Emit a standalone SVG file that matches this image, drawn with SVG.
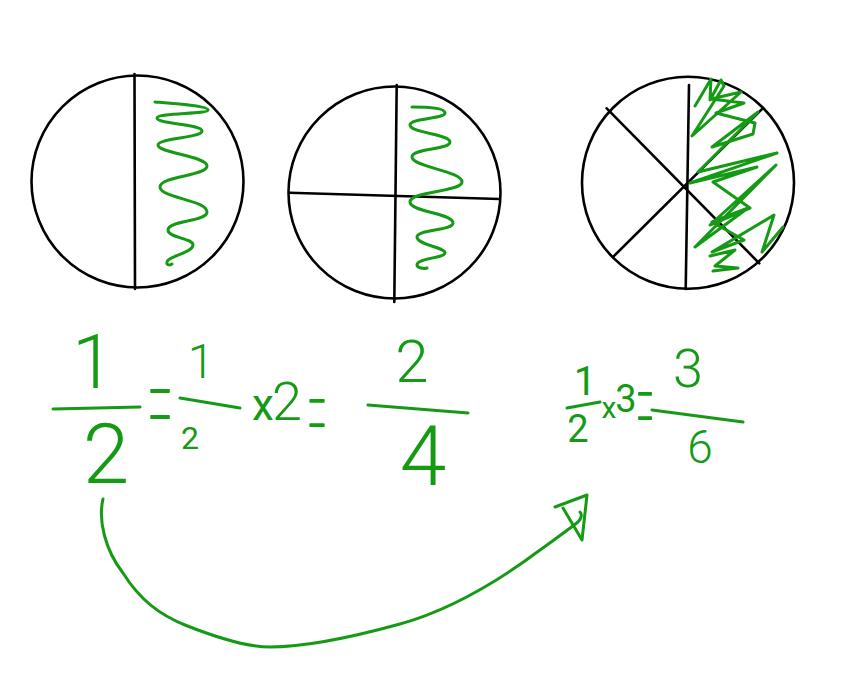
<svg xmlns="http://www.w3.org/2000/svg" width="854" height="685" viewBox="0 0 854 685">
<style>
.blk{fill:none;stroke:#000;stroke-width:2.6;stroke-linecap:round;stroke-linejoin:round}
.grn{fill:none;stroke:#159a15;stroke-width:3;stroke-linecap:round;stroke-linejoin:round}
.t{font-family:Roboto,"Liberation Sans",sans-serif;fill:#159a15;text-anchor:middle}
.lt{font-weight:300}
.eq{font-family:Lato,Roboto,sans-serif;font-weight:100;stroke:#159a15;stroke-width:2.2;stroke-linejoin:round}
</style>
<rect width="854" height="685" fill="#fff"/>
<g id="circle-halves">
<circle class="blk" cx="137.5" cy="181.5" r="106"/>
<line class="blk" x1="134.5" y1="74" x2="135" y2="289"/>
<path class="grn" d="M155,102 C180,104 208,106 208,110 C208,114 157,113 157,118 C157,124 202,124 202,131 C202,138 158,138 158,145 C158,153 207,156 207,166 C207,176 160,176 160,187 C160,198 207,200 207,212 C207,222 168,220 168,230 C168,238 193,238 193,245 C193,253 168,256 167,262 C166,266 171,265 172,264"/>
</g>
<g id="circle-quarters">
<circle class="blk" cx="394.5" cy="192.5" r="106"/>
<line class="blk" x1="396.7" y1="85" x2="394.3" y2="302"/>
<line class="blk" x1="289.3" y1="192.7" x2="499.3" y2="199"/>
<path class="grn" d="M412,107 C430,107 445,108 445,113 C445,119 410,118 410,125 C410,133 450,134 450,142 C450,150 412,148 412,157 C412,167 462,171 462,182 C462,192 410,191 410,202 C410,212 453,213 453,223 C453,231 417,229 417,237 C417,245 445,247 445,253 C445,258 417,258 417,265 C417,268 424,269 427,268"/>
</g>
<g id="circle-sixths">
<circle class="blk" cx="688" cy="182.7" r="106"/>
<line class="blk" x1="689" y1="85" x2="685.7" y2="289"/>
<line class="blk" x1="606.7" y1="108.3" x2="759.3" y2="263.3"/>
<line class="blk" x1="761.7" y1="109.3" x2="613.3" y2="256.7"/>
<polyline class="grn" points="695,106 711,79 710,100 721,80 724,86 692,136 741,92 711,99 744,103 716,113 755,123 753,134 712,147 758,112 698,172 777,153 690,183 757,167 713,182 750,208 710,225 776,165 695,247 748,208 712,222 744,240 712,252 774,215 762,252 783,227"/>
<polyline class="grn" points="710,256 735,250 715,266 738,268 713,271"/>
</g>
<g id="eq-half">
<line class="grn" x1="53" y1="409" x2="140" y2="407"/>
<text class="t lt" x="93" y="388" font-size="76">1</text>
<text class="t lt" x="106" y="483" font-size="84">2</text>
<text class="t eq" transform="translate(160,465) scale(0.26,1)" font-size="180">=</text>
</g>
<g id="eq-half-times-two">
<line class="grn" x1="180" y1="398" x2="240" y2="408"/>
<text class="t lt" x="201" y="378" font-size="48">1</text>
<text class="t" x="190" y="449" font-size="32">2</text>
<text class="t" x="263" y="420" font-size="44">x</text>
<text class="t lt" x="287" y="420" font-size="54">2</text>
<text class="t eq" transform="translate(317,469) scale(0.22,1)" font-size="165">=</text>
</g>
<g id="eq-two-quarters">
<line class="grn" x1="368" y1="405" x2="468" y2="413"/>
<text class="t lt" x="412" y="382" font-size="60">2</text>
<text class="t lt" x="423" y="485" font-size="84">4</text>
</g>
<g id="eq-three-sixths">
<line class="grn" x1="567" y1="408" x2="600" y2="402"/>
<text class="t" x="585" y="395" font-size="40">1</text>
<text class="t" x="578" y="442" font-size="38">2</text>
<text class="t" x="609" y="418" font-size="30">x</text>
<text class="t" x="626" y="412" font-size="38">3</text>
<text class="t eq" transform="translate(645,462) scale(0.2,1)" font-size="165">=</text>
<line class="grn" x1="652" y1="410" x2="743" y2="422"/>
<text class="t lt" x="688" y="387" font-size="54">3</text>
<text class="t lt" x="700" y="463" font-size="46">6</text>
</g>
<g id="connectors">
<path class="grn" d="M103,499 C98,520 105,550 123,573 C140,600 160,615 185,625 C215,637 245,647 270,647 C310,647 360,635 400,624 C450,610 500,580 540,550 C555,539 568,530 578,522 C582,518 582,514 580,512"/>
<path class="grn" d="M555,507 L587,495 L582,540 L563,508"/>
</g>
</svg>
